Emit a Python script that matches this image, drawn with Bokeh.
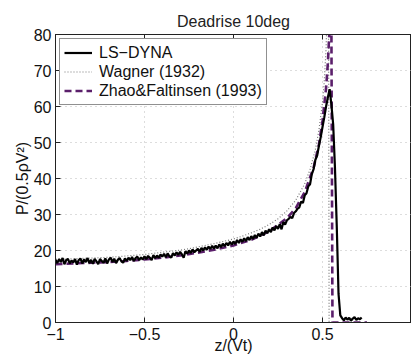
from bokeh.plotting import figure
from bokeh.models import Range1d, FixedTicker, LinearAxis, Legend, LegendItem, Label
from bokeh.embed import file_html
from bokeh.resources import INLINE

# LS-DYNA (noisy) values, z from -1.00 step 0.01
lsdyna_z = [round(-1.0 + 0.01 * i, 2) for i in range(173)]
lsdyna_p = [
    17.4, 16.5, 17.6, 16.8, 17.9, 16.2, 17.3, 17.7, 16.4, 17.2,
    16.7, 17.6, 16.1, 17.3, 17.8, 16.4, 17.5, 16.8, 17.9, 16.5,
    17.4, 16.3, 17.7, 17.0, 16.2, 17.6, 17.1, 16.6, 17.8, 16.4,
    17.5, 18.0, 16.8, 17.7, 16.5, 17.4, 17.9, 17.0, 16.6, 17.8,
    17.1, 18.0, 17.3, 18.2, 17.1, 17.9, 18.3, 17.3, 18.1, 17.5,
    18.4, 17.6, 18.5, 18.0, 17.3, 18.7, 17.9, 18.6, 18.0, 18.9,
    18.3, 19.1, 18.1, 19.2, 18.4, 18.0, 19.3, 18.6, 19.5, 18.8,
    19.6, 18.9, 18.0, 19.8, 19.1, 20.0, 19.3, 20.3, 19.5, 20.0,
    20.5, 19.6, 20.7, 20.0, 20.9, 20.2, 21.1, 20.4, 21.3, 20.5,
    21.4, 20.6, 21.7, 20.9, 21.9, 21.2, 22.1, 21.4, 22.4, 21.6,
    22.5, 21.8, 22.9, 22.1, 23.1, 22.4, 23.4, 22.6, 23.7, 22.9,
    24.0, 23.2, 24.3, 23.5, 24.7, 23.9, 25.1, 24.2, 25.5, 24.8,
    25.9, 25.1, 26.4, 25.6, 26.8, 26.0, 27.3, 25.9, 27.9, 27.2,
    28.4, 28.8, 29.3, 29.0, 30.4, 30.9, 31.6, 32.0, 33.6, 33.2,
    35.3, 35.9, 37.8, 38.4, 41.2, 42.6, 45.2, 46.4, 49.1, 51.5,
    54.3, 57.0, 60.0, 62.5, 64.8, 60.5, 55.0, 43.0, 27.0, 8.0,
    2.0, 1.2, 0.6, 1.4, 0.8, 1.3, 0.5, 1.1, 1.5, 0.7, 1.2, 0.9, 1.4,
]

# Wagner (1932)
wagner_z = [-1.0, -0.95, -0.9, -0.85, -0.8, -0.75, -0.7, -0.65, -0.6, -0.55,
            -0.5, -0.45, -0.4, -0.35, -0.3, -0.25, -0.2, -0.15, -0.1, -0.05,
            0.0, 0.05, 0.1, 0.15, 0.2, 0.25, 0.3, 0.35, 0.4, 0.43, 0.46, 0.48,
            0.5, 0.51, 0.52, 0.525, 0.533, 0.537, 0.75]
wagner_p = [17.6, 17.6, 17.7, 17.8, 17.9, 18.0, 18.1, 18.3, 18.5, 18.7,
            18.9, 19.2, 19.5, 19.8, 20.1, 20.5, 21.0, 21.5, 22.0, 22.6,
            23.2, 24.0, 24.9, 25.9, 27.2, 28.8, 31.0, 34.0, 38.5, 42.5, 48.0, 53.5,
            61.0, 67.0, 76.0, 84.0, 120.0, 0.0, 0.0]

# Zhao & Faltinsen (1993)
zhao_z = [-1.0, -0.9, -0.8, -0.7, -0.6, -0.5, -0.4, -0.3, -0.2, -0.1,
          0.0, 0.1, 0.2, 0.3, 0.35, 0.4, 0.45, 0.48, 0.5, 0.52, 0.53, 0.54,
          0.548, 0.556, 0.75]
zhao_p = [16.2, 16.4, 16.6, 16.8, 17.1, 17.5, 18.0, 18.6, 19.4, 20.3,
          21.4, 23.0, 25.3, 29.0, 31.8, 36.2, 43.0, 49.5, 56.0, 65.0, 72.0, 82.0,
          110.0, 0.0, 0.0]

x_ticks = [-1, -0.5, 0, 0.5, 1]
x_tick_labels = {-1: "\u22121", -0.5: "\u22120.5", 0: "0", 0.5: "0.5", 1: ""}
last_x_label = "1"
y_ticks = [0, 10, 20, 30, 40, 50, 60, 70, 80]

FONT = "Liberation Sans"

p = figure(width=411, height=356, output_backend="svg", toolbar_location=None,
           x_range=Range1d(-1, 1), y_range=Range1d(0, 80),
           title="Deadrise 10deg", min_border_left=55, min_border_right=0,
           min_border_top=34, min_border_bottom=34)
p.title.align = "center"
p.title.text_font = FONT
p.title.text_font_size = "16px"
p.title.text_font_style = "normal"
p.title.text_color = "#222222"

p.outline_line_color = "#222222"
p.outline_line_width = 1

for ax in (p.xaxis[0], p.yaxis[0]):
    ax.major_tick_in = 5
    ax.major_tick_out = 0
    ax.minor_tick_in = 0
    ax.minor_tick_out = 0
    ax.major_label_text_font = FONT
    ax.major_label_text_font_size = "16px"
    ax.major_label_text_color = "#111111"
    ax.axis_label_text_font = FONT
    ax.axis_label_text_font_size = "16px"
    ax.axis_label_text_font_style = "normal"
    ax.axis_label_text_color = "#111111"
    ax.axis_line_color = "#222222"
    ax.major_tick_line_color = "#222222"

p.xaxis.ticker = FixedTicker(ticks=x_ticks)
p.xaxis.major_label_overrides = x_tick_labels
p.xaxis.axis_label = "z/(Vt)"
p.xaxis.major_label_standoff = 5
p.xaxis.axis_label_standoff = -6

p.yaxis.ticker = FixedTicker(ticks=y_ticks)
p.yaxis.axis_label = "P/(0.5\u03c1V\u00b2)"
p.yaxis.major_label_standoff = 4
p.yaxis.axis_label_standoff = 0

top = LinearAxis(ticker=FixedTicker(ticks=x_ticks),
                 major_label_overrides={t: "" for t in x_ticks},
                 major_tick_in=5, major_tick_out=0, minor_tick_in=0, minor_tick_out=0,
                 axis_line_color="#222222", major_tick_line_color="#222222",
                 major_label_standoff=0)
p.add_layout(top, "above")

p.xgrid.ticker = FixedTicker(ticks=x_ticks)
p.ygrid.ticker = FixedTicker(ticks=y_ticks)
for g in (p.xgrid[0], p.ygrid[0]):
    g.grid_line_color = "#bbbbbb"
    g.grid_line_dash = "1 4"
    g.grid_line_width = 1

r_w = p.line(wagner_z, wagner_p, line_color="#777777", line_width=1.2, line_dash="1 2")
r_z = p.line(zhao_z, zhao_p, line_color="#5b1f6b", line_width=2.6, line_dash="7 4")
r_l = p.line(lsdyna_z, lsdyna_p, line_color="#000000", line_width=2.2)

# tick label at the right end (drawn separately so that the frame reaches the edge)
p.add_layout(Label(x=x_ticks[-1], y=0, text=last_x_label, text_align="right",
                   text_baseline="top", y_offset=-5, x_offset=-1, text_font=FONT,
                   text_font_size="16px", text_color="#111111"))

legend = Legend(items=[LegendItem(label="LS\u2212DYNA", renderers=[r_l]),
                       LegendItem(label="Wagner (1932)", renderers=[r_w]),
                       LegendItem(label="Zhao&Faltinsen (1993)", renderers=[r_z])],
                location="top_left")
legend.margin = 4
legend.padding = 4
legend.spacing = 0
legend.label_text_font = FONT
legend.label_text_font_size = "16px"
legend.label_text_color = "#111111"
legend.glyph_width = 28
legend.glyph_height = 19
legend.label_height = 19
legend.label_standoff = 7
legend.border_line_color = "#222222"
legend.border_line_width = 1
legend.background_fill_alpha = 1
p.add_layout(legend)

open("out.html", "w").write(file_html(p, INLINE))
